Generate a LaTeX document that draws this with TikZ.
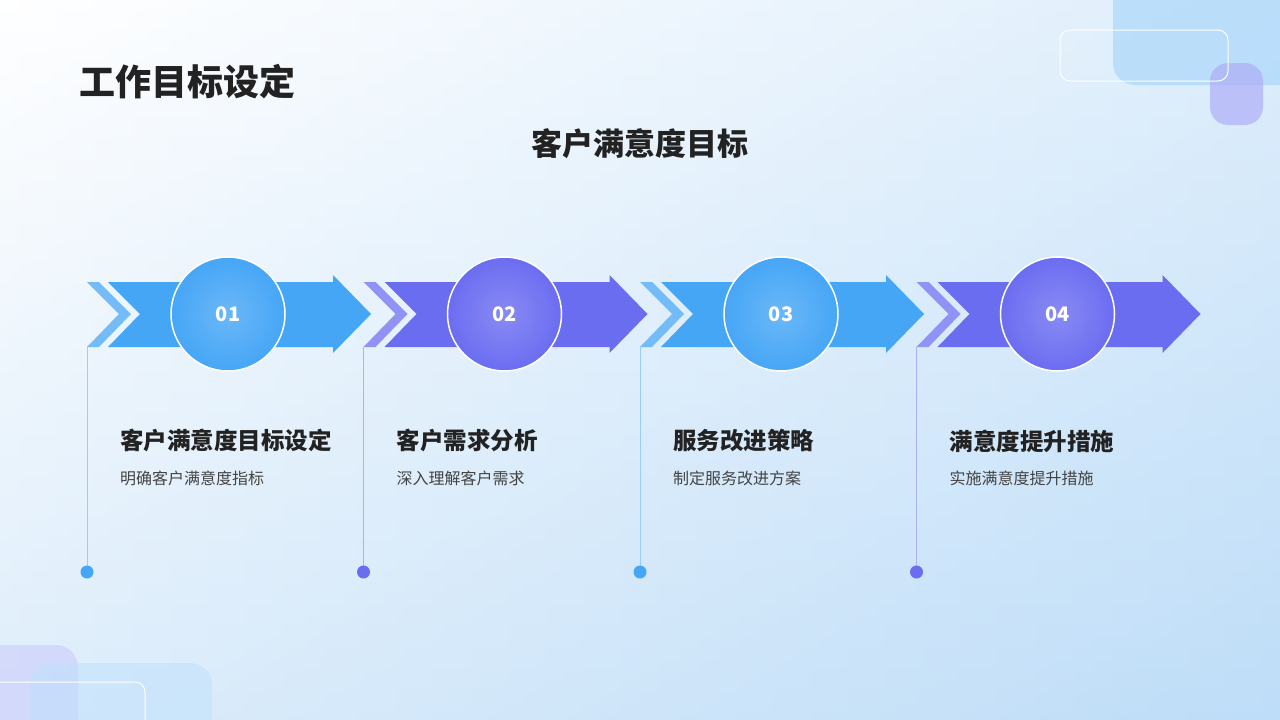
\documentclass[tikz,border=0pt]{standalone}
\usepackage{fontspec}
\setmainfont{Noto Sans CJK SC}
\usetikzlibrary{positioning, calc}
\definecolor{arrowblue}{HTML}{46A6F6}
\definecolor{arrowpurple}{HTML}{6B6DF1}
\definecolor{titlegray}{HTML}{222222}
\definecolor{bgblue}{HTML}{BEDDF8}

\begin{document}
\begin{tikzpicture}[x=1pt, y=-1pt,
		heading/.style={font=\bfseries\fontsize{23.5}{28}\selectfont, text=titlegray, anchor=west, inner sep=0},
		note/.style={font=\fontsize{16}{19}\selectfont, text=titlegray!85, anchor=west, inner sep=0},
		stepcircle/.style={circle, minimum size=114pt, draw=white, line width=1.5pt, font=\bfseries\fontsize{20}{24}\selectfont, text=white}]
		
		\shade[left color=white, right color=bgblue] (0,0) rectangle (1280,720);
		\shade[top color=white, bottom color=bgblue, opacity=0.5] (0,0) rectangle (1280,720);
		\useasboundingbox (0,0) rectangle (1280,720);
		
		% corner decorations
		\fill[arrowblue!50, opacity=0.6, rounded corners=22pt] (1113,-30) rectangle (1300,85);
		\fill[arrowpurple!55, opacity=0.7, rounded corners=18pt] (1210,63) rectangle (1263,125);
		\draw[white, line width=1pt, rounded corners=10pt] (1060,30) rectangle (1228,81);
		\fill[arrowpurple!35, opacity=0.6, rounded corners=22pt] (-20,645) rectangle (78,740);
		\fill[arrowblue!35, opacity=0.5, rounded corners=22pt] (30,663) rectangle (212,740);
		\draw[white, line width=1pt, rounded corners=10pt] (-10,682) rectangle (145,740);
		
		\node[font=\bfseries\fontsize{36}{42}\selectfont, text=titlegray, anchor=west, inner sep=0] (title) at (79,82) {工作目标设定};
		\node[font=\bfseries\fontsize{31}{36}\selectfont, text=titlegray, inner sep=0] (subtitle) at (640,144) {客户满意度目标};
		
		\foreach \i/\col/\num/\head/\text in {0/arrowblue/01/客户满意度目标设定/明确客户满意度指标,
				1/arrowpurple/02/客户需求分析/深入理解客户需求,
				2/arrowblue/03/服务改进策略/制定服务改进方案,
				3/arrowpurple/04/满意度提升措施/实施满意度提升措施}{
			\begin{scope}[xshift=\i*276.5]
				\fill[\col!75] (87,282) -- (99,282) -- (131,314) -- (99,347) -- (87,347) -- (119,314) -- cycle;
				\fill[\col] (108,282) -- (333,282) -- (333,275) -- (371,314) -- (333,353) -- (333,347) -- (108,347) -- (140,314) -- cycle;
				\draw[\col!55, line width=0.6pt] (87,347) -- (87,572);
				\fill[\col] (87,572) circle (6.5);
				\node[stepcircle, inner color=\col!80, outer color=\col] (c\i) at (228,314) {\num};
				\node[heading] (h\i) at (120,441) {\head};
				\node[note] (n\i) at (120,478) {\text};
			\end{scope}
		}
	\end{tikzpicture}
\end{document}
